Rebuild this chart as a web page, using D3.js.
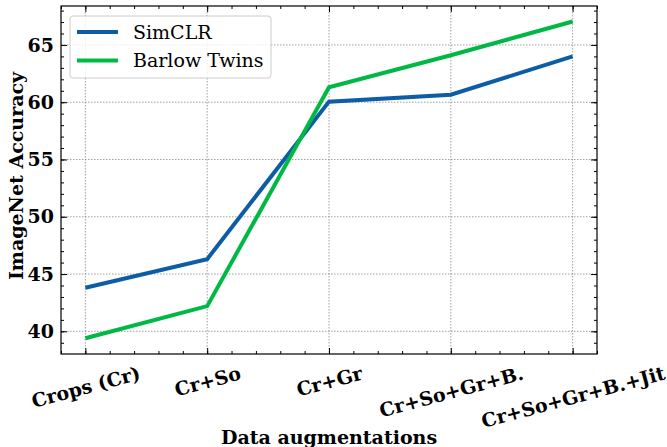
<!DOCTYPE html>
<html>
<head>
<meta charset="utf-8">
<script src="https://cdn.jsdelivr.net/npm/d3@7"></script>
<style>
  body { margin: 0; background: #fff; }
  svg { display: block; }
  .tick text { font-family: "DejaVu Serif", serif; font-weight: bold; font-size: 19px; fill: #000; }
</style>
</head>
<body>
<div class="chart"></div>
<script>
// Data

const categories = ["Crops (Cr)", "Cr+So", "Cr+Gr", "Cr+So+Gr+B.", "Cr+So+Gr+B.+Jit"];
const simclr = [43.8, 46.3, 60.05, 60.65, 64.0];
const barlow = [39.4, 42.2, 61.3, 64.1, 67.05];
const yTicks = [40, 45, 50, 55, 60, 65];

const series = [
  { name: "SimCLR", values: simclr, color: "#0C5DA5" },
  { name: "Barlow Twins", values: barlow, color: "#00B945" },
];

// Measurements

const W = 667, H = 447;
const margin = { top: 6, right: 70, bottom: 93, left: 61 };
const w = W - margin.left - margin.right;
const h = H - margin.top - margin.bottom;
const angle = 15;

const svg = d3
  .select(".chart")
  .append("svg")
  .attr("width", W)
  .attr("height", H);

const g = svg.append("g").attr("transform", `translate(${margin.left}, ${margin.top})`);

// Scales

const xScale = d3.scaleLinear().domain([-0.2, 4.2]).range([0, w]);
const yScale = d3.scaleLinear().domain([38.02, 68.4]).range([h, 0]);

// Grid

g.append("g")
  .selectAll("line")
  .data(yTicks)
  .enter()
  .append("line")
  .attr("x1", 0)
  .attr("x2", w)
  .attr("y1", (d) => yScale(d))
  .attr("y2", (d) => yScale(d))
  .attr("stroke", "#888")
  .attr("stroke-width", 0.8)
  .attr("stroke-dasharray", "1.5,1.5");

g.append("g")
  .selectAll("line")
  .data(d3.range(categories.length))
  .enter()
  .append("line")
  .attr("x1", (d) => xScale(d))
  .attr("x2", (d) => xScale(d))
  .attr("y1", 0)
  .attr("y2", h)
  .attr("stroke", "#888")
  .attr("stroke-width", 0.8)
  .attr("stroke-dasharray", "1.5,1.5");

// Axes (ticks point inward)

const xMinor = d3.range(-0.2, 4.21, 0.2).map((d) => +d.toFixed(2));
const yMinor = d3.range(39, 69, 1);

const xAxis = g
  .append("g")
  .attr("transform", `translate(0, ${h})`)
  .call(
    d3.axisBottom(xScale)
      .tickValues(d3.range(categories.length))
      .tickFormat((d) => categories[d])
      .tickSizeInner(-6)
      .tickSizeOuter(0)
  );
xAxis.select(".domain").remove();

// rotated labels: centred on the tick, top of rotated box at a fixed offset
const rad = (angle * Math.PI) / 180;
xAxis
  .selectAll(".tick text")
  .attr("y", 0)
  .attr("dy", "0.35em")
  .attr("text-anchor", "middle")
  .attr("transform", function () {
    const b = this.getBBox();
    const rotH = b.width * Math.sin(rad) + b.height * Math.cos(rad);
    return `translate(0, ${8 + rotH / 2}) rotate(${-angle})`;
  });

g.append("g")
  .attr("transform", `translate(0, ${h})`)
  .call(d3.axisBottom(xScale).tickValues(xMinor).tickFormat("").tickSizeInner(-3).tickSizeOuter(0))
  .select(".domain").remove();

const yAxis = g
  .append("g")
  .call(d3.axisLeft(yScale).tickValues(yTicks).tickSizeInner(-6).tickSizeOuter(0).tickPadding(7));
yAxis.select(".domain").remove();

g.append("g")
  .call(d3.axisLeft(yScale).tickValues(yMinor).tickFormat("").tickSizeInner(-3).tickSizeOuter(0))
  .select(".domain").remove();

// Top and right mirrored ticks

g.append("g")
  .call(d3.axisTop(xScale).tickValues(d3.range(categories.length)).tickFormat("").tickSizeInner(-6).tickSizeOuter(0))
  .select(".domain").remove();
g.append("g")
  .call(d3.axisTop(xScale).tickValues(xMinor).tickFormat("").tickSizeInner(-3).tickSizeOuter(0))
  .select(".domain").remove();
g.append("g")
  .attr("transform", `translate(${w}, 0)`)
  .call(d3.axisRight(yScale).tickValues(yTicks).tickFormat("").tickSizeInner(-6).tickSizeOuter(0))
  .select(".domain").remove();
g.append("g")
  .attr("transform", `translate(${w}, 0)`)
  .call(d3.axisRight(yScale).tickValues(yMinor).tickFormat("").tickSizeInner(-3).tickSizeOuter(0))
  .select(".domain").remove();

// Lines

const line = d3
  .line()
  .x((d, i) => xScale(i))
  .y((d) => yScale(d));

g.selectAll(".series")
  .data(series)
  .enter()
  .append("path")
  .attr("class", "series")
  .attr("d", (d) => line(d.values))
  .attr("fill", "none")
  .attr("stroke", (d) => d.color)
  .attr("stroke-width", 4)
  .attr("stroke-linejoin", "miter");

// Frame

g.append("rect")
  .attr("width", w)
  .attr("height", h)
  .attr("fill", "none")
  .attr("stroke", "#000")
  .attr("stroke-width", 1.2);

// Axis labels

svg
  .append("text")
  .attr("x", margin.left + w / 2)
  .attr("y", 444)
  .attr("text-anchor", "middle")
  .style("font-family", "DejaVu Serif, serif")
  .style("font-weight", "bold")
  .style("font-size", "19px")
  .text("Data augmentations");

svg
  .append("text")
  .attr("transform", "translate(23, 176) rotate(-90)")
  .attr("text-anchor", "middle")
  .style("font-family", "DejaVu Serif, serif")
  .style("font-weight", "bold")
  .style("font-size", "19px")
  .text("ImageNet Accuracy");

// Legend

const legend = g.append("g").attr("transform", "translate(9, 10)");

legend
  .append("rect")
  .attr("width", 201)
  .attr("height", 62)
  .attr("rx", 3)
  .attr("fill", "rgba(255,255,255,0.8)")
  .attr("stroke", "#ccc")
  .attr("stroke-width", 1);

legend
  .selectAll(".leg-line")
  .data(series)
  .enter()
  .append("line")
  .attr("x1", 7)
  .attr("x2", 48)
  .attr("y1", (d, i) => 16 + i * 28.5)
  .attr("y2", (d, i) => 16 + i * 28.5)
  .attr("stroke", (d) => d.color)
  .attr("stroke-width", 4);

legend
  .selectAll(".leg-text")
  .data(series)
  .enter()
  .append("text")
  .attr("x", 63)
  .attr("y", (d, i) => 16 + i * 28.5)
  .attr("dy", "0.35em")
  .style("font-family", "DejaVu Serif, serif")
  .style("font-size", "19px")
  .text((d) => d.name);
</script>
</body>
</html>
